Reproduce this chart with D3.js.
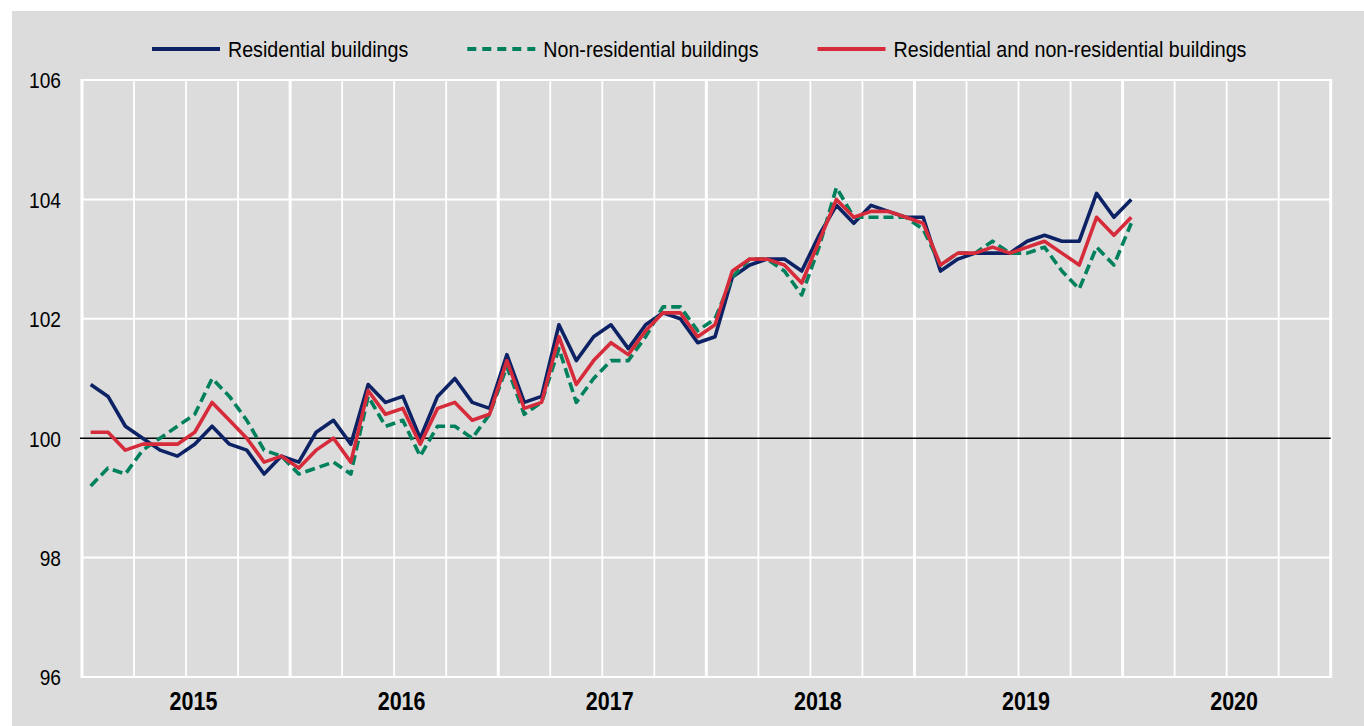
<!DOCTYPE html>
<html>
<head>
<meta charset="utf-8">
<script src="https://cdn.jsdelivr.net/npm/d3@7"></script>
<style>
  body { margin: 0; background: #fff; }
  svg text { font-family: "Liberation Sans", Arial, sans-serif; fill: #000; }
</style>
</head>
<body>
<svg id="chart" width="1364" height="726"></svg>
<script>
// Monthly index, Jan 2015 .. Jan 2020
var years = [2015, 2016, 2017, 2018, 2019, 2020];
var yTicks = [96, 98, 100, 102, 104, 106];

var residential = [
  100.9, 100.7, 100.2, 100.0, 99.8, 99.7, 99.9, 100.2, 99.9, 99.8, 99.4, 99.7,
  99.6, 100.1, 100.3, 99.9, 100.9, 100.6, 100.7, 100.0, 100.7, 101.0, 100.6, 100.5,
  101.4, 100.6, 100.7, 101.9, 101.3, 101.7, 101.9, 101.5, 101.9, 102.1, 102.0, 101.6,
  101.7, 102.7, 102.9, 103.0, 103.0, 102.8, 103.4, 103.9, 103.6, 103.9, 103.8, 103.7,
  103.7, 102.8, 103.0, 103.1, 103.1, 103.1, 103.3, 103.4, 103.3, 103.3, 104.1, 103.7,
  104.0
];
var nonResidential = [
  99.2, 99.5, 99.4, 99.8, 100.0, 100.2, 100.4, 101.0, 100.7, 100.3, 99.8, 99.7,
  99.4, 99.5, 99.6, 99.4, 100.7, 100.2, 100.3, 99.7, 100.2, 100.2, 100.0, 100.4,
  101.2, 100.4, 100.6, 101.5, 100.6, 101.0, 101.3, 101.3, 101.7, 102.2, 102.2, 101.8,
  102.0, 102.7, 103.0, 103.0, 102.8, 102.4, 103.2, 104.2, 103.7, 103.7, 103.7, 103.7,
  103.5, 102.9, 103.1, 103.1, 103.3, 103.1, 103.1, 103.2, 102.8, 102.5, 103.2, 102.9,
  103.6
];
var allBuildings = [
  100.1, 100.1, 99.8, 99.9, 99.9, 99.9, 100.1, 100.6, 100.3, 100.0, 99.6, 99.7,
  99.5, 99.8, 100.0, 99.6, 100.8, 100.4, 100.5, 99.9, 100.5, 100.6, 100.3, 100.4,
  101.3, 100.5, 100.6, 101.7, 100.9, 101.3, 101.6, 101.4, 101.8, 102.1, 102.1, 101.7,
  101.9, 102.8, 103.0, 103.0, 102.9, 102.6, 103.3, 104.0, 103.7, 103.8, 103.8, 103.7,
  103.6, 102.9, 103.1, 103.1, 103.2, 103.1, 103.2, 103.3, 103.1, 102.9, 103.7, 103.4,
  103.7
];
var seriesNames = ['Residential buildings', 'Non-residential buildings', 'Residential and non-residential buildings'];

var colors = ['#0c2265', '#00805c', '#d62b3b'];
var squeezeK = 0.87; // glyphs in the original are narrow

var svg = d3.select('#chart');
var plotL = 82, plotR = 1330.7, plotT = 80, plotB = 677;

var x = d3.scaleLinear().domain([0, years.length * 12]).range([plotL, plotR]);
var y = d3.scaleLinear().domain([96, 106]).range([plotB, plotT]);

// squeeze text horizontally around its anchor
function squeeze(sel, k) {
  sel.each(function() {
    var t = d3.select(this);
    var tx = +t.attr('x') || 0;
    t.attr('x', tx / k).attr('transform', 'scale(' + k + ',1)');
  });
}

// background panel
svg.append('rect')
    .attr('x', 12).attr('y', 11)
    .attr('width', 1364 - 12).attr('height', 726 - 11)
    .attr('fill', '#dcdcdc');

// horizontal grid
svg.append('g').selectAll('line')
    .data(yTicks.filter(function(d){ return d !== 100; }))
  .enter().append('line')
    .attr('x1', plotL).attr('x2', plotR)
    .attr('y1', function(d){ return y(d); })
    .attr('y2', function(d){ return y(d); })
    .attr('stroke', '#fff')
    .attr('stroke-width', 2);

// vertical grid, quarters thin / years thick
svg.append('g').selectAll('line')
    .data(d3.range(0, years.length * 12 + 1, 3))
  .enter().append('line')
    .attr('x1', function(d){ return x(d); })
    .attr('x2', function(d){ return x(d); })
    .attr('y1', plotT - 1).attr('y2', plotB + 1)
    .attr('stroke', '#fff')
    .attr('stroke-width', function(d){ return d % 12 === 0 ? 3 : 1.8; });

// base line at 100
svg.append('line')
    .attr('x1', plotL - 2).attr('x2', plotR)
    .attr('y1', y(100)).attr('y2', y(100))
    .attr('stroke', '#000')
    .attr('stroke-width', 1.6);

// series
var line = d3.line()
    .x(function(d, i){ return x(i + 0.5); })
    .y(function(d){ return y(d); });

var series = [residential, nonResidential, allBuildings];
svg.append('g').selectAll('path')
    .data(series)
  .enter().append('path')
    .attr('d', line)
    .attr('fill', 'none')
    .attr('stroke', function(d, i){ return colors[i]; })
    .attr('stroke-width', 3.6)
    .attr('stroke-linejoin', 'round')
    .attr('stroke-dasharray', function(d, i){ return i === 1 ? '10,5' : null; });

// y axis labels
var yAxis = svg.append('g')
    .attr('transform', 'translate(' + plotL + ',0)')
    .call(d3.axisLeft(y).tickValues(yTicks).tickSize(0).tickPadding(21).tickFormat(d3.format('d')));
yAxis.select('.domain').remove();
yAxis.selectAll('text')
    .style('font-size', '22px')
    .attr('dy', '0.36em');
squeeze(yAxis.selectAll('text'), squeezeK);

// year labels
var xAxis = svg.append('g')
    .attr('transform', 'translate(0,' + plotB + ')')
    .call(d3.axisBottom(x)
      .tickValues(years.map(function(d, i){ return i * 12 + 6.4; }))
      .tickFormat(function(d, i){ return years[i]; })
      .tickSize(0).tickPadding(15));
xAxis.select('.domain').remove();
xAxis.selectAll('text')
    .style('font-size', '25px')
    .style('font-weight', 'bold');
squeeze(xAxis.selectAll('text'), 0.86);

// legend
var legend = svg.append('g');
var lx = 152, ly = 49;
seriesNames.forEach(function(name, i) {
  legend.append('line')
      .attr('x1', lx).attr('x2', lx + 68)
      .attr('y1', ly).attr('y2', ly)
      .attr('stroke', colors[i])
      .attr('stroke-width', 4)
      .attr('stroke-dasharray', i === 1 ? '9,6' : null);
  var t = legend.append('text')
      .attr('x', lx + 76).attr('y', ly)
      .attr('dy', '0.35em')
      .style('font-size', '22.6px')
      .text(name);
  var w = t.node().getComputedTextLength() * squeezeK;
  squeeze(t, squeezeK);
  lx += 76 + w + 59;
});
</script>
</body>
</html>
